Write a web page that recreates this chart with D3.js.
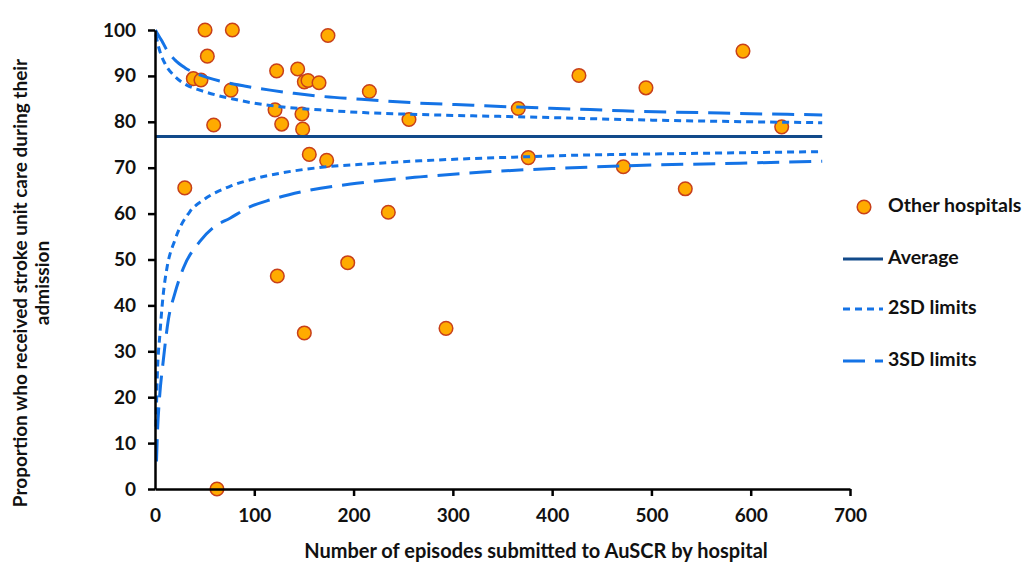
<!DOCTYPE html>
<html>
<head>
<meta charset="utf-8">
<script src="https://cdn.jsdelivr.net/npm/d3@7"></script>
<style>
  body { margin: 0; background: #fff; }
  text { font-family: Lato, "Open Sans", sans-serif; font-weight: bold; fill: #111; }
</style>
</head>
<body>
<div id="chart"></div>
<script>
// hospitals: episodes submitted vs % receiving stroke unit care
const hospEpisodes = [30, 38.6, 46.3, 50.4, 52.7, 59.1, 62.4, 76.5, 77.9, 120.9, 122.5, 123.2,
    127.6, 143.7, 148, 148.7, 150.4, 150.4, 154.1, 155.4, 165.2, 172.9, 174.2, 194.1,
    215.9, 235, 255.8, 293.1, 365.9, 376, 427, 471.7, 494.5, 534.1, 592.2, 631.2];
const hospPct = [65.6, 89.4, 89.1, 100, 94.3, 79.3, 0, 86.9, 100, 82.6, 91.1, 46.4,
    79.5, 91.5, 81.7, 78.4, 88.7, 34.0, 89.0, 72.9, 88.5, 71.6, 98.8, 49.3,
    86.6, 60.3, 80.5, 35.0, 82.9, 72.2, 90.1, 70.2, 87.4, 65.4, 95.4, 78.9];

const average = 76.8;
const averageRange = [0, 672];

const sd2UpperN = [1, 2, 5, 10, 20, 32, 45, 62, 80, 96, 126, 166, 210, 264, 320, 366, 420, 471, 570, 672];
const sd2UpperPct = [99.0, 97.8, 95.3, 92.7, 89.9, 88.0, 86.9, 85.8, 84.9, 84.2, 83.3, 82.6, 82.0, 81.6, 81.3, 81.1, 80.8, 80.5, 80.1, 79.8];
const sd3UpperN = [0.5, 3, 7, 12, 20, 30, 45, 67, 90, 116, 140, 165, 208, 264, 320, 366, 420, 471, 570, 672];
const sd3UpperPct = [100, 99.0, 97.6, 95.6, 93.5, 91.8, 90.2, 88.8, 87.8, 86.9, 86.2, 85.6, 84.9, 84.1, 83.6, 83.2, 82.8, 82.4, 81.9, 81.5];
const sd2LowerN = [1, 2.3, 5, 8.4, 12, 20, 35, 49, 75, 100, 126, 173, 220, 267, 320, 376, 420, 471, 570, 672];
const sd2LowerPct = [13.6, 24.5, 33.9, 42.6, 48.1, 54.2, 60.4, 63.0, 65.9, 67.6, 68.8, 70.2, 70.9, 71.5, 72.0, 72.4, 72.7, 72.9, 73.2, 73.5];
const sd3LowerN = [1.5, 2.5, 4.4, 8.4, 13.4, 20, 28.5, 45, 59, 75.5, 96, 116, 149, 203, 267, 334, 411, 472, 570, 672];
const sd3LowerPct = [6.0, 12.5, 19.4, 28.1, 36.8, 42.6, 48.1, 53.9, 57.0, 59.0, 61.5, 63.0, 64.8, 66.6, 68.0, 69.1, 69.9, 70.4, 70.9, 71.4];

const xTicks = [0, 100, 200, 300, 400, 500, 600, 700];
const yTicks = [0, 10, 20, 30, 40, 50, 60, 70, 80, 90, 100];
const legendItems = ["Other hospitals", "Average", "2SD limits", "3SD limits"];

const blue = "#1473e6";
const navy = "#124a8a";

const svg = d3.select("#chart").append("svg")
    .attr("width", 1026).attr("height", 566);

const x = d3.scaleLinear().domain([0, 700]).range([155, 850]);
const y = d3.scaleLinear().domain([0, 100]).range([489, 30]);

const zip = (a, b) => a.map((d, i) => [d, b[i]]);
const line = d3.line().x(d => x(d[0])).y(d => y(d[1])).curve(d3.curveMonotoneX);

// points
svg.append("g")
    .selectAll("circle")
    .data(zip(hospEpisodes, hospPct))
    .join("circle")
    .attr("cx", d => x(d[0]))
    .attr("cy", d => y(d[1]))
    .attr("r", 6.8)
    .attr("fill", "#ffab00")
    .attr("stroke", "#c8401a")
    .attr("stroke-width", 1.5);

// limits
const limits = [
    [zip(sd2UpperN, sd2UpperPct), "7,5"],
    [zip(sd2LowerN, sd2LowerPct), "7,5"],
    [zip(sd3UpperN, sd3UpperPct), "22,10"],
    [zip(sd3LowerN, sd3LowerPct), "22,10"]
];
svg.append("g")
    .selectAll("path")
    .data(limits)
    .join("path")
    .attr("d", d => line(d[0]))
    .attr("fill", "none")
    .attr("stroke", blue)
    .attr("stroke-width", 3)
    .attr("stroke-dasharray", d => d[1]);

svg.append("line")
    .attr("x1", x(averageRange[0])).attr("x2", x(averageRange[1]))
    .attr("y1", y(average)).attr("y2", y(average))
    .attr("stroke", navy).attr("stroke-width", 2.8);

// axes
const yAxis = svg.append("g")
    .attr("transform", `translate(${x(0)},0)`)
    .call(d3.axisLeft(y).tickValues(yTicks).tickSize(7).tickPadding(12).tickSizeOuter(0));
const xAxis = svg.append("g")
    .attr("transform", `translate(0,${y(0)})`)
    .call(d3.axisBottom(x).tickValues(xTicks).tickSize(7).tickPadding(13).tickSizeOuter(0));

[xAxis, yAxis].forEach(a => {
    a.select(".domain").attr("stroke", "#000").attr("stroke-width", 2.5);
    a.selectAll(".tick line").attr("stroke", "#000").attr("stroke-width", 2.5);
    a.selectAll(".tick text").attr("font-size", 19).attr("fill", "#111");
});
xAxis.selectAll(".tick").filter(d => d === 0).select("line").remove();

// axis titles
svg.append("text")
    .attr("x", 536).attr("y", 553)
    .attr("text-anchor", "middle").attr("dominant-baseline", "middle")
    .attr("font-size", 20)
    .text("Number of episodes submitted to AuSCR by hospital");

const yTitle = svg.append("text")
    .attr("transform", "translate(20,283) rotate(-90)")
    .attr("text-anchor", "middle")
    .attr("font-size", 19);
yTitle.append("tspan").attr("x", 0).attr("dy", "0.35em")
    .text("Proportion who received stroke unit care during their");
yTitle.append("tspan").attr("x", 0).attr("dy", "1.15em").text("admission");

// legend
const legendY = [207, 259, 309, 361];
const lg = svg.append("g");
lg.append("circle").attr("cx", 864).attr("cy", legendY[0]).attr("r", 6.8)
    .attr("fill", "#ffab00").attr("stroke", "#c8401a").attr("stroke-width", 1.5);
lg.append("line").attr("x1", 843).attr("x2", 883).attr("y1", legendY[1]).attr("y2", legendY[1])
    .attr("stroke", navy).attr("stroke-width", 2.8);
lg.append("line").attr("x1", 843).attr("x2", 883).attr("y1", legendY[2]).attr("y2", legendY[2])
    .attr("stroke", blue).attr("stroke-width", 3).attr("stroke-dasharray", "7,5");
lg.append("line").attr("x1", 843).attr("x2", 883).attr("y1", legendY[3]).attr("y2", legendY[3])
    .attr("stroke", blue).attr("stroke-width", 3).attr("stroke-dasharray", "22,10");
lg.selectAll("text")
    .data(legendItems)
    .join("text")
    .attr("x", 888)
    .attr("y", (d, i) => legendY[i])
    .attr("dominant-baseline", "middle")
    .attr("font-size", 19.5)
    .text(d => d);
</script>
</body>
</html>
